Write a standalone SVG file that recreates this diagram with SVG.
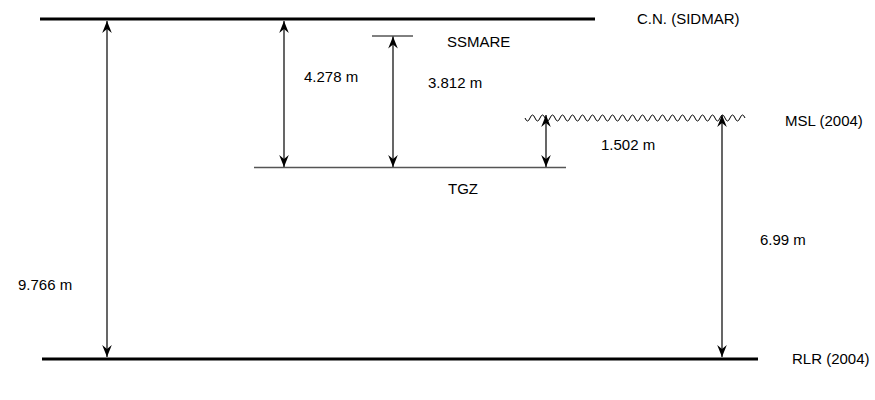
<svg xmlns="http://www.w3.org/2000/svg" width="875" height="400" viewBox="0 0 875 400">
<style>
text{font-family:"Liberation Sans",Arial,sans-serif;font-size:15px;fill:#000}
.lvl{stroke:#000;stroke-width:3;fill:none}
.thin{stroke:#555;stroke-width:1.3;fill:none}
.dim{stroke:#000;stroke-width:1.2;fill:none;marker-start:url(#ah);marker-end:url(#ah)}
</style>
<defs>
<marker id="ah" viewBox="-12 -5 13 10" markerWidth="13" markerHeight="10" refX="0" refY="0" orient="auto-start-reverse" markerUnits="userSpaceOnUse">
<path d="M0,0 L-12,-4.8 L-8,0 L-12,4.8 Z" fill="#000"/>
</marker>
</defs>
<g id="cn"><line class="lvl" x1="40" y1="19" x2="595" y2="19"/><text x="637" y="24">C.N. (SIDMAR)</text></g>
<g id="rlr"><line class="lvl" x1="42" y1="359" x2="758" y2="359"/><text x="792" y="364">RLR (2004)</text></g>
<g id="tgz"><line class="thin" x1="254" y1="167.5" x2="566" y2="167.5"/><text x="448" y="194">TGZ</text></g>
<g id="ssmare"><line x1="372" y1="36" x2="413" y2="36" stroke="#000" stroke-width="1"/><text x="447" y="47">SSMARE</text></g>
<g id="msl"><path fill="none" stroke="#000" stroke-width="1" d="M525,118 q2.5,6 5,0 t5,0 t5,0 t5,0 t5,0 t5,0 t5,0 t5,0 t5,0 t5,0 t5,0 t5,0 t5,0 t5,0 t5,0 t5,0 t5,0 t5,0 t5,0 t5,0 t5,0 t5,0 t5,0 t5,0 t5,0 t5,0 t5,0 t5,0 t5,0 t5,0 t5,0 t5,0 t5,0 t5,0 t5,0 t5,0 t5,0 t5,0 t5,0 t5,0 t5,0 t5,0 t5,0 t5,0"/><text x="785" y="126">MSL (2004)</text></g>
<g id="connectors">
<line class="dim" x1="107" y1="21" x2="107" y2="357"/>
<line class="dim" x1="284" y1="21" x2="284" y2="167"/>
<line class="dim" x1="393" y1="36.5" x2="393" y2="167"/>
<line class="dim" x1="546" y1="115" x2="546" y2="167"/>
<line class="dim" x1="722" y1="115" x2="722" y2="357"/>
</g>
<g id="labels">
<text x="18" y="290">9.766 m</text>
<text x="304" y="82">4.278 m</text>
<text x="428" y="88">3.812 m</text>
<text x="601" y="150">1.502 m</text>
<text x="760" y="245">6.99 m</text>
</g>
</svg>
